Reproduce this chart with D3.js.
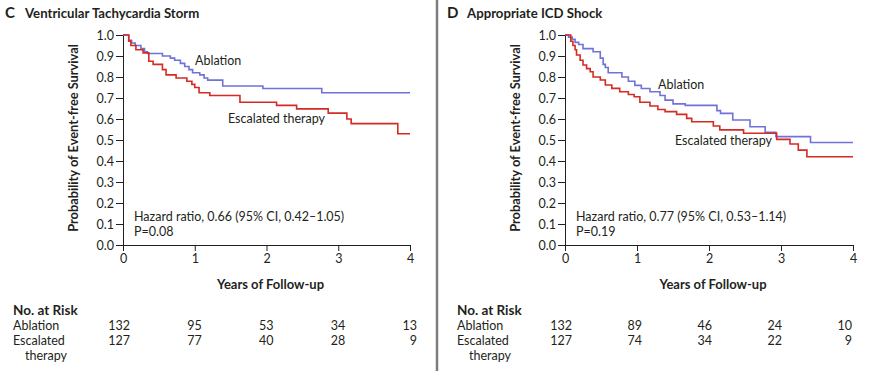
<!DOCTYPE html>
<html>
<head>
<meta charset="utf-8">
<script src="https://cdn.jsdelivr.net/npm/d3@7"></script>
<style>
  html, body { margin: 0; padding: 0; background: #fff; }
  svg { display: block; }
  text { font-family: Lato, "Open Sans", sans-serif; fill: #231f20; }
</style>
</head>
<body>
<svg id="chart" width="872" height="371"></svg>
<script>
// ---------- data ----------
const xTicks = [0, 1, 2, 3, 4];
const yTicks = [0, 0.1, 0.2, 0.3, 0.4, 0.5, 0.6, 0.7, 0.8, 0.9, 1.0];

// Panel C: Ventricular Tachycardia Storm  [years, survival]
const cAblation = [[0,1],[0.08,0.975],[0.12,0.962],[0.17,0.95],[0.25,0.935],[0.30,0.92],[0.34,0.912],
  [0.55,0.90],[0.66,0.89],[0.72,0.88],[0.80,0.865],[0.86,0.85],[0.92,0.835],[0.97,0.82],[1.07,0.81],
  [1.13,0.795],[1.18,0.785],[1.39,0.757],[1.95,0.745],[2.77,0.725],[4.0,0.725]];
const cEscalated = [[0,1],[0.08,0.97],[0.11,0.95],[0.18,0.93],[0.28,0.915],[0.36,0.875],[0.42,0.86],
  [0.55,0.835],[0.60,0.81],[0.74,0.795],[0.89,0.78],[0.96,0.765],[1.0,0.75],[1.06,0.725],[1.21,0.712],
  [1.63,0.68],[2.14,0.665],[2.42,0.648],[2.86,0.628],[3.12,0.60],[3.18,0.578],[3.83,0.53],[4.0,0.53]];

// Panel D: Appropriate ICD Shock
const dAblation = [[0,1],[0.05,0.99],[0.10,0.98],[0.14,0.965],[0.19,0.955],[0.25,0.935],[0.39,0.92],
  [0.49,0.89],[0.53,0.86],[0.56,0.845],[0.60,0.82],[0.79,0.80],[0.88,0.78],[0.97,0.76],[1.06,0.745],
  [1.18,0.73],[1.32,0.712],[1.39,0.69],[1.50,0.672],[1.67,0.665],[2.11,0.64],[2.16,0.627],[2.33,0.595],
  [2.57,0.563],[2.78,0.537],[2.93,0.516],[3.41,0.488],[4.0,0.488]];
const dEscalated = [[0,1],[0.08,0.97],[0.11,0.95],[0.14,0.93],[0.16,0.905],[0.21,0.88],[0.25,0.857],
  [0.30,0.84],[0.35,0.825],[0.39,0.80],[0.49,0.786],[0.56,0.762],[0.65,0.746],[0.76,0.73],[0.88,0.717],
  [0.96,0.706],[1.04,0.68],[1.18,0.662],[1.29,0.645],[1.39,0.635],[1.55,0.622],[1.69,0.603],[1.76,0.587],
  [2.06,0.567],[2.15,0.548],[2.48,0.532],[2.94,0.503],[3.125,0.481],[3.24,0.452],[3.36,0.42],[4.0,0.42]];

// Numbers at risk
const cRiskAblation = [132, 95, 53, 34, 13];
const cRiskEscalated = [127, 77, 40, 28, 9];
const dRiskAblation = [132, 89, 46, 24, 10];
const dRiskEscalated = [127, 74, 34, 22, 9];

const seriesNames = ["Ablation", "Escalated therapy"];
const colors = { ablation: "#6f72d8", escalated: "#d42b25" };

// ---------- drawing ----------
const svg = d3.select("#chart");

// divider
svg.append("line").attr("x1", 437).attr("x2", 437).attr("y1", 0).attr("y2", 371)
  .attr("stroke", "#7d7d7d").attr("stroke-width", 2.5);

const panels = [
  { letter: "C", title: "Ventricular Tachycardia Storm", ox: 0, x0: 123, x1: 410,
    abl: cAblation, esc: cEscalated, riskA: cRiskAblation, riskE: cRiskEscalated,
    riskX0: 130, riskX1: 417, lx: 13,
    ablLabel: [195, 65], escLabel: [228, 123],
    hr: "Hazard ratio, 0.66 (95% CI, 0.42\u20131.05)", p: "P=0.08" },
  { letter: "D", title: "Appropriate ICD Shock", ox: 442, x0: 565, x1: 853,
    abl: dAblation, esc: dEscalated, riskA: dRiskAblation, riskE: dRiskEscalated,
    riskX0: 572, riskX1: 852, lx: 457,
    ablLabel: [658, 89], escLabel: [675, 145],
    hr: "Hazard ratio, 0.77 (95% CI, 0.53\u20131.14)", p: "P=0.19" }
];

panels.forEach(pn => {
  const g = svg.append("g");
  const x = d3.scaleLinear().domain([0, 4]).range([pn.x0, pn.x1]);
  const y = d3.scaleLinear().domain([0, 1]).range([245, 35]);

  // title
  g.append("text").attr("x", pn.ox + 5).attr("y", 18).attr("font-size", 15)
    .attr("font-weight", 700).text(pn.letter);
  g.append("text").attr("x", pn.ox + 25).attr("y", 18).attr("font-size", 13.2)
    .attr("font-weight", 700).text(pn.title);

  // y axis
  const yAxis = g.append("g").attr("transform", `translate(${pn.x0},0)`)
    .call(d3.axisLeft(y).tickValues(yTicks).tickFormat(d3.format(".1f")).tickSize(7).tickSizeOuter(0).tickPadding(2));
  // x axis
  const xAxis = g.append("g").attr("transform", `translate(0,245)`)
    .call(d3.axisBottom(x).tickValues(xTicks).tickFormat(d3.format("d")).tickSize(6).tickSizeOuter(0).tickPadding(3));
  [yAxis, xAxis].forEach(a => {
    a.selectAll("path, line").attr("stroke", "#231f20").attr("stroke-width", 1);
    a.selectAll("text").attr("font-size", 12.5).attr("font-family", "Lato, sans-serif").attr("fill", "#231f20");
  });

  // axis titles
  g.append("text").attr("transform", `translate(${pn.x0 - 45},138) rotate(-90)`)
    .attr("text-anchor", "middle").attr("font-size", 12.8).attr("font-weight", 700)
    .text("Probability of Event-free Survival");
  g.append("text").attr("x", (pn.x0 + pn.x1) / 2 + 4).attr("y", 289)
    .attr("text-anchor", "middle").attr("font-size", 13).attr("font-weight", 700)
    .text("Years of Follow-up");

  // curves
  const line = d3.line().x(d => x(d[0])).y(d => y(d[1])).curve(d3.curveStepAfter);
  g.append("path").datum(pn.abl).attr("d", line).attr("fill", "none")
    .attr("stroke", colors.ablation).attr("stroke-width", 1.6);
  g.append("path").datum(pn.esc).attr("d", line).attr("fill", "none")
    .attr("stroke", colors.escalated).attr("stroke-width", 1.6);

  // curve labels
  g.append("text").attr("x", pn.ablLabel[0]).attr("y", pn.ablLabel[1]).attr("font-size", 12.5).text(seriesNames[0]);
  g.append("text").attr("x", pn.escLabel[0]).attr("y", pn.escLabel[1]).attr("font-size", 12.5).text(seriesNames[1]);

  // hazard ratio
  g.append("text").attr("x", pn.x0 + 11).attr("y", 221).attr("font-size", 12.5).text(pn.hr);
  g.append("text").attr("x", pn.x0 + 11).attr("y", 236).attr("font-size", 12.5).text(pn.p);

  // numbers at risk
  const rx = d3.scaleLinear().domain([0, 4]).range([pn.riskX0, pn.riskX1]);
  const lx = pn.lx;
  g.append("text").attr("x", lx).attr("y", 315).attr("font-size", 13.5).attr("font-weight", 700).text("No. at Risk");
  g.append("text").attr("x", lx).attr("y", 330).attr("font-size", 12.5).text("Ablation");
  g.append("text").attr("x", lx).attr("y", 345).attr("font-size", 12.5).text("Escalated");
  g.append("text").attr("x", lx + 12).attr("y", 360).attr("font-size", 12.5).text("therapy");
  g.selectAll(".ra").data(pn.riskA).enter().append("text")
    .attr("x", (d, i) => rx(xTicks[i])).attr("y", 330).attr("text-anchor", "end")
    .attr("font-size", 12.5).text(d => d);
  g.selectAll(".re").data(pn.riskE).enter().append("text")
    .attr("x", (d, i) => rx(xTicks[i])).attr("y", 345).attr("text-anchor", "end")
    .attr("font-size", 12.5).text(d => d);
});
</script>
</body>
</html>
